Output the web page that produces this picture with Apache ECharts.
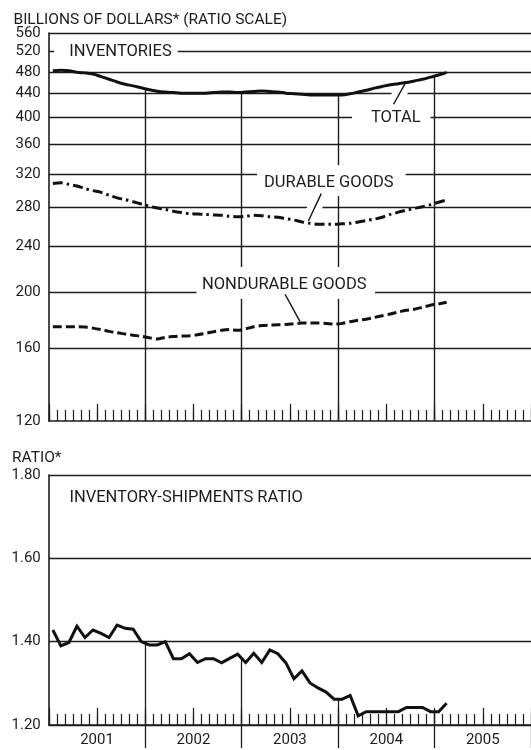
<!DOCTYPE html>
<html><head><meta charset="utf-8">
<script src="https://cdn.jsdelivr.net/npm/echarts@6/dist/echarts.min.js"></script>
<style>html,body{margin:0;padding:0;background:#fff}#c{width:531px;height:750px}</style>
</head><body><div id="c"></div>
<script>
// ---------- data (monthly, Jan 2001 .. Feb 2005) ----------
const years = ['2001', '2002', '2003', '2004', '2005'];
const halfYears = ['01a','01b','02a','02b','03a','03b','04a','04b','05a','05b'];
const invTicks = [120, 160, 200, 240, 280, 320, 360, 400, 440, 480, 520, 560];
const ratioTicks = [1.20, 1.40, 1.60, 1.80];
const yearEdges = [12, 24, 36, 48];

const total = [482, 483, 482, 479, 478, 476, 471, 466, 461, 457, 454, 450.5,
  447, 444.5, 443, 442, 441, 441, 441, 441, 442, 443, 443, 442,
  443, 444, 445, 444, 443, 441, 440, 439, 438, 438, 438, 438,
  438, 440, 443, 446, 450, 453, 456, 458, 460, 463, 466, 470,
  474, 479];
const durable = [308, 309, 307, 305, 302, 299.5, 297.5, 294, 291, 289, 286.5, 284,
  281.5, 279.5, 278, 276, 274.5, 273.3, 273, 272.5, 272, 271.5, 270.5, 270,
  270.5, 271.5, 271, 270, 269.5, 268, 266.5, 264.5, 263, 262, 262, 262,
  262.5, 263, 264.5, 266, 267.5, 269.5, 272.5, 275, 277, 279, 281, 283.3,
  286, 288.5];
const nondurable = [174.5, 174.5, 174.5, 174.5, 174.3, 173.5, 172.5, 171.3, 170.3, 169.5, 168.7, 168,
  167, 166.2, 167.3, 167.8, 168.1, 168.4, 169, 170, 171, 172, 172.5, 172,
  173, 174.5, 175.3, 175.6, 175.8, 176, 176.5, 177, 177, 177, 176.8, 176.3,
  176.8, 178, 179, 179.8, 181, 182.3, 183.5, 185, 186.2, 187, 188.5, 190,
  191, 192.3];
const ratio = [1.428, 1.39, 1.398, 1.437, 1.41, 1.428, 1.42, 1.41, 1.44, 1.432, 1.43, 1.40,
  1.392, 1.392, 1.40, 1.359, 1.359, 1.371, 1.35, 1.359, 1.359, 1.349, 1.36, 1.37,
  1.35, 1.372, 1.35, 1.38, 1.371, 1.349, 1.311, 1.33, 1.301, 1.289, 1.279, 1.262,
  1.262, 1.271, 1.222, 1.232, 1.232, 1.232, 1.232, 1.232, 1.242, 1.242, 1.242, 1.232,
  1.232, 1.252];

// annotation arrows: [start, tip] in [month, value]
const arrowTotal = [[42.9, 422], [44.3, 457]];
const arrowDurable = [[33.9, 296], [32.3, 265.5]];
const arrowNondurable = [[29.4, 198.5], [31.26, 178]];

// ---------- helpers ----------
const FONT = 'Roboto, "Noto Sans", sans-serif';
const INK = '#1c1c1c';
const pts = arr => arr.map((v, i) => [i + 0.5, v]);
const edgeVal = (arr, m) => (arr[m - 1] + arr[m]) / 2;
const arrowLine = a => [{ coord: a[0] }, { coord: a[1] }];

const gridLine = { color: INK, width: 1.4 };
const axisLineStyle = { color: INK, width: 1.6 };

const chart = echarts.init(document.getElementById('c'));

function monthAxis(gi) {
  return {
    gridIndex: gi, type: 'value', min: 0, max: 60, interval: 1, position: 'bottom',
    axisLine: { show: true, onZero: false, lineStyle: axisLineStyle },
    axisTick: { show: true, inside: true, length: 11, lineStyle: { color: INK, width: 1.2 } },
    axisLabel: { show: false }, splitLine: { show: false }
  };
}
function halfAxis(gi) {
  return {
    gridIndex: gi, type: 'category', data: halfYears, boundaryGap: true, position: 'bottom',
    axisLine: { show: false, onZero: false },
    axisTick: { show: true, inside: true, length: 17, interval: 0, lineStyle: { color: INK, width: 1.2 } },
    axisLabel: { show: false, interval: 0 }, splitLine: { show: false }
  };
}

const txt = (x, y, text, size) => ({
  type: 'text', x, y, z: 2, silent: true,
  style: { text, fill: INK, font: size + 'px ' + FONT, align: 'left', verticalAlign: 'middle' }
});
const box = (x, y, text, pad) => ({
  type: 'text', x, y, z: 2, silent: true,
  style: { text, fill: INK, font: '16.5px ' + FONT, align: 'left', verticalAlign: 'top',
    backgroundColor: '#fff', padding: pad, lineHeight: 16 }
});

const option = {
  animation: false,
  backgroundColor: '#fff',
  grid: [
    { left: 48.8, top: 33, width: 491.4, bottom: 329, containLabel: false },
    { left: 48.8, top: 475, width: 491.4, bottom: 25, containLabel: false }
  ],
  xAxis: [
    monthAxis(0), halfAxis(0),
    monthAxis(1), halfAxis(1),
    {
      gridIndex: 1, type: 'category', data: years, boundaryGap: true, position: 'bottom',
      axisLine: { show: false, onZero: false },
      axisTick: { show: true, inside: false, length: 23, interval: (i) => i > 0, lineStyle: { color: INK, width: 1.3 } },
      axisLabel: { show: true, interval: 0, color: INK, fontSize: 15, fontFamily: FONT, margin: 8 },
      splitLine: { show: false }
    }
  ],
  yAxis: [
    {
      gridIndex: 0, type: 'log', logBase: 10, min: invTicks[0], max: invTicks[invTicks.length - 1],
      axisLine: { show: true, lineStyle: axisLineStyle },
      axisTick: { show: false, customValues: invTicks },
      axisLabel: { customValues: invTicks, color: INK, fontSize: 15, fontFamily: FONT, margin: 8 },
      splitLine: { show: false }
    },
    {
      gridIndex: 1, type: 'value', min: ratioTicks[0], max: ratioTicks[ratioTicks.length - 1], interval: 0.2,
      axisLine: { show: true, lineStyle: axisLineStyle },
      axisTick: { show: false },
      axisLabel: { color: INK, fontSize: 15, fontFamily: FONT, margin: 8, formatter: v => v.toFixed(2) },
      splitLine: { show: true, lineStyle: gridLine }
    }
  ],
  series: [
    { // gridlines + year lines in the inventory panel (beneath labels)
      type: 'line', xAxisIndex: 0, yAxisIndex: 0, z: 1, silent: true, symbol: 'none',
      data: pts(total), lineStyle: { opacity: 0 },
      markLine: {
        z: 1, silent: true, symbol: 'none', label: { show: false },
        lineStyle: { color: INK, width: 1.4, type: 'solid' },
        data: invTicks.slice(1).map(v => ({ yAxis: v }))
          .concat(yearEdges.map(m => [{ coord: [m, invTicks[0]] }, { coord: [m, edgeVal(total, m)] }]))
      }
    },
    { // white halos under the arrows (cut the grid lines)
      type: 'line', xAxisIndex: 0, yAxisIndex: 0, z: 1, silent: true, symbol: 'none',
      data: pts(total), lineStyle: { opacity: 0 },
      markLine: {
        z: 1.5, silent: true, symbol: 'none', label: { show: false },
        lineStyle: { color: '#fff', width: 14, type: 'solid', opacity: 1 },
        data: [arrowLine(arrowTotal), arrowLine(arrowDurable)]
      }
    },
    {
      name: 'Total', type: 'line', xAxisIndex: 0, yAxisIndex: 0, z: 3, symbol: 'none', smooth: 0.3,
      data: pts(total), lineStyle: { color: '#111', width: 3 },
      markLine: {
        z: 5, silent: true, symbol: ['none', 'arrow'], symbolSize: [0, 9], label: { show: false },
        lineStyle: { color: '#111', width: 1.4, type: 'solid' },
        data: [arrowLine(arrowTotal), arrowLine(arrowDurable), arrowLine(arrowNondurable)]
      }
    },
    {
      name: 'Durable goods', type: 'line', xAxisIndex: 0, yAxisIndex: 0, z: 3, symbol: 'none', smooth: 0.3,
      data: pts(durable), lineStyle: { color: '#111', width: 3, type: [10, 4, 2.5, 4] }
    },
    {
      name: 'Nondurable goods', type: 'line', xAxisIndex: 0, yAxisIndex: 0, z: 3, symbol: 'none', smooth: 0.3,
      data: pts(nondurable), lineStyle: { color: '#111', width: 3, type: [9, 4] }
    },
    {
      name: 'Inventory-shipments ratio', type: 'line', xAxisIndex: 2, yAxisIndex: 1, z: 3, symbol: 'none',
      data: pts(ratio), lineStyle: { color: '#111', width: 3, join: 'miter' },
      markLine: {
        z: 1, silent: true, symbol: 'none', label: { show: false },
        lineStyle: { color: INK, width: 1.3, type: 'solid' },
        data: yearEdges.map(m => [{ coord: [m, ratioTicks[0]] }, { coord: [m, edgeVal(ratio, m)] }])
      }
    }
  ],
  graphic: [
    txt(13.5, 20, 'BILLIONS OF DOLLARS* (RATIO SCALE)', 15.5),
    txt(12, 458, 'RATIO*', 15.5),
    txt(69.4, 498, 'INVENTORY-SHIPMENTS RATIO', 16.5),
    box(54.2, 38, 'INVENTORIES', [6, 6, 6, 15]),
    box(352, 104, 'TOTAL', [6, 10, 6, 19]),
    box(257, 165, 'DURABLE GOODS', [10, 12, 5, 7]),
    box(196.4, 267, 'NONDURABLE GOODS', [10, 8.5, 6, 5.6])
  ]
};
chart.setOption(option);
</script>
</body></html>
